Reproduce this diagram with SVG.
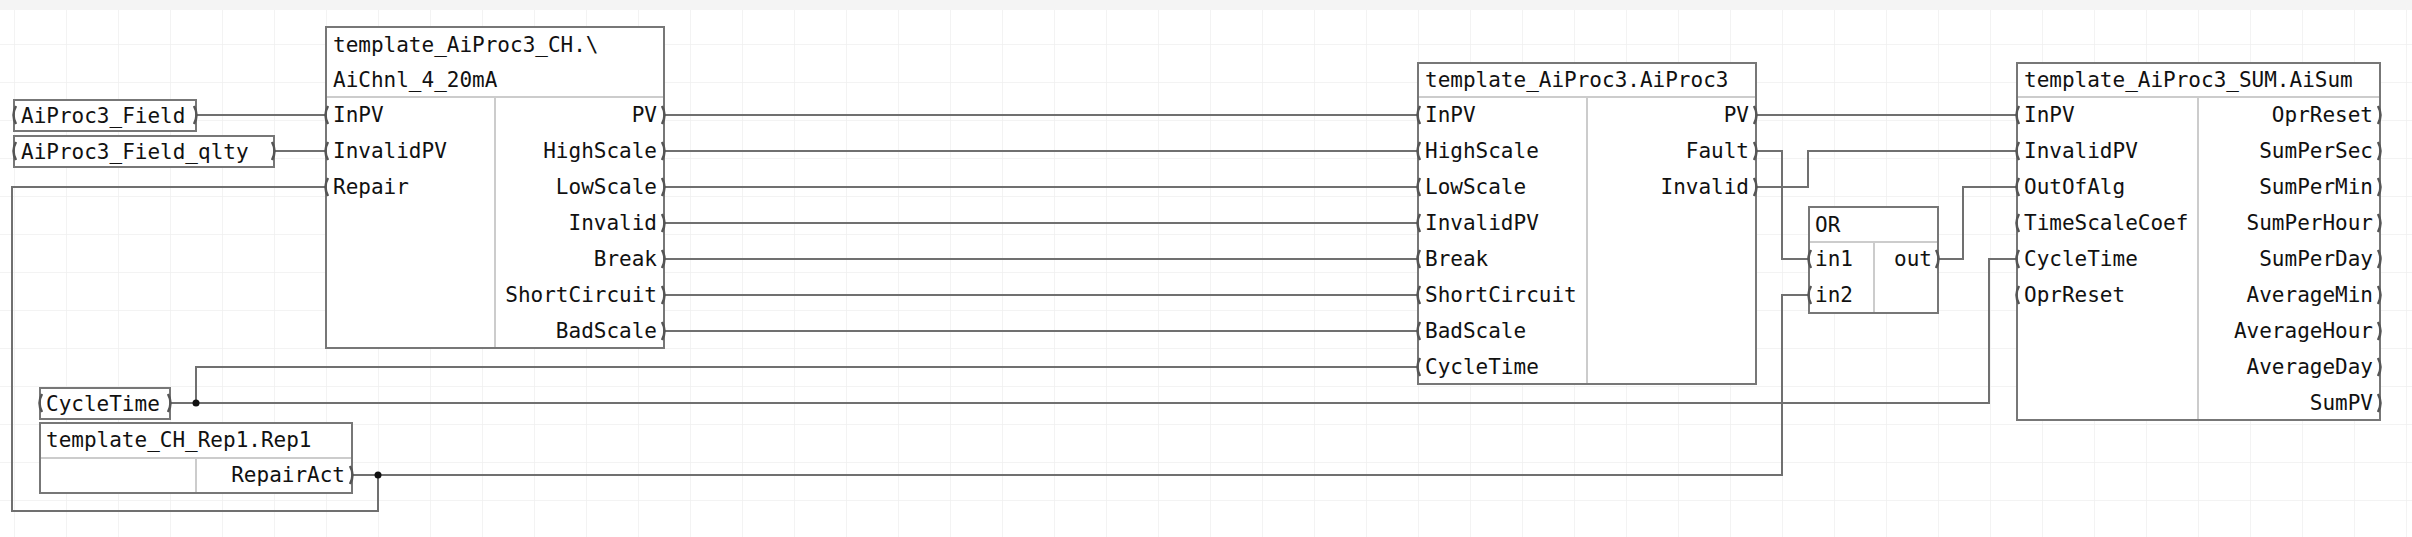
<svg xmlns="http://www.w3.org/2000/svg" width="2412" height="537" viewBox="0 0 2412 537">
<style>
.bx{fill:#fff;stroke:#777;stroke-width:2}
.dv{stroke:#ccc;stroke-width:2;fill:none}
.t{font-family:"DejaVu Sans Mono",monospace;font-size:21px;fill:#111}
.r{text-anchor:end}
.w{fill:none;stroke:#707070;stroke-width:2}
.p{fill:none;stroke:#555;stroke-width:2.5}
</style>
<defs>
<pattern id="g" width="52" height="38" patternUnits="userSpaceOnUse" x="14" y="6"><path d="M0 0V38M0 0H52" stroke="#efefef" stroke-width="1.5" fill="none"/></pattern>
</defs>
<rect width="2412" height="537" fill="#fff"/>
<rect y="10" width="2412" height="527" fill="url(#g)"/>
<rect width="2412" height="10" fill="#f4f4f4"/>
<g id="connectors">
<path class="w" d="M196 115H326M274 151H326M326 187H12V511H378V475"/>
<path class="w" d="M352 475H1782V295H1809"/>
<path class="w" d="M170 403H1989V259H2017M196 403V367H1418"/>
<path class="w" d="M664 115H1418M664 151H1418M664 187H1418M664 223H1418M664 259H1418M664 295H1418M664 331H1418"/>
<path class="w" d="M1756 115H2017M1756 151H1782V259H1809M1756 187H1808V151H2017M1938 259H1963V187H2017"/>
<circle cx="196" cy="403" r="3.5" fill="#111"/>
<circle cx="378" cy="475" r="3.5" fill="#111"/>
</g>
<g id="AiProc3_Field">
<rect class="bx" x="14" y="100" width="182" height="31"/>
<text class="t" x="21" y="123">AiProc3_Field</text>
<path class="p" d="M16 106q-5 9 0 18M194 106q5 9 0 18"/>
</g>
<g id="AiProc3_Field_qlty">
<rect class="bx" x="14" y="136" width="260" height="31"/>
<text class="t" x="21" y="159">AiProc3_Field_qlty</text>
<path class="p" d="M16 142q-5 9 0 18M272 142q5 9 0 18"/>
</g>
<g id="CycleTime">
<rect class="bx" x="40" y="388" width="130" height="31"/>
<text class="t" x="46" y="411">CycleTime</text>
<path class="p" d="M42 394q-5 9 0 18M168 394q5 9 0 18"/>
</g>
<g id="Rep1">
<rect class="bx" x="40" y="423" width="312" height="70"/>
<path class="dv" d="M41 458H351M196 459V492"/>
<text class="t" x="46" y="447">template_CH_Rep1.Rep1</text>
<text class="t r" x="345" y="482">RepairAct</text>
<path class="p" d="M350 466q5 9 0 18"/>
</g>
<g id="AiChnl">
<rect class="bx" x="326" y="27" width="338" height="321"/>
<path class="dv" d="M327 97H663M495 98V347"/>
<text class="t" x="333" y="52">template_AiProc3_CH.\</text>
<text class="t" x="333" y="87">AiChnl_4_20mA</text>
<text class="t" x="333" y="122">InPV</text>
<text class="t" x="333" y="158">InvalidPV</text>
<text class="t" x="333" y="194">Repair</text>
<g class="t r">
<text x="657" y="122">PV</text><text x="657" y="158">HighScale</text><text x="657" y="194">LowScale</text><text x="657" y="230">Invalid</text><text x="657" y="266">Break</text><text x="657" y="302">ShortCircuit</text><text x="657" y="338">BadScale</text>
</g>
<path class="p" d="M328 106q-5 9 0 18M328 142q-5 9 0 18M328 178q-5 9 0 18M662 106q5 9 0 18M662 142q5 9 0 18M662 178q5 9 0 18M662 214q5 9 0 18M662 250q5 9 0 18M662 286q5 9 0 18M662 322q5 9 0 18"/>
</g>
<g id="AiProc3">
<rect class="bx" x="1418" y="63" width="338" height="321"/>
<path class="dv" d="M1419 97H1755M1587 98V383"/>
<text class="t" x="1425" y="87">template_AiProc3.AiProc3</text>
<g class="t">
<text x="1425" y="122">InPV</text><text x="1425" y="158">HighScale</text><text x="1425" y="194">LowScale</text><text x="1425" y="230">InvalidPV</text><text x="1425" y="266">Break</text><text x="1425" y="302">ShortCircuit</text><text x="1425" y="338">BadScale</text><text x="1425" y="374">CycleTime</text>
</g>
<g class="t r"><text x="1749" y="122">PV</text><text x="1749" y="158">Fault</text><text x="1749" y="194">Invalid</text></g>
<path class="p" d="M1420 106q-5 9 0 18M1420 142q-5 9 0 18M1420 178q-5 9 0 18M1420 214q-5 9 0 18M1420 250q-5 9 0 18M1420 286q-5 9 0 18M1420 322q-5 9 0 18M1420 358q-5 9 0 18M1754 106q5 9 0 18M1754 142q5 9 0 18M1754 178q5 9 0 18"/>
</g>
<g id="OR">
<rect class="bx" x="1809" y="207" width="129" height="106"/>
<path class="dv" d="M1810 242H1937M1874 243V312"/>
<text class="t" x="1815" y="232">OR</text>
<text class="t" x="1815" y="266">in1</text>
<text class="t" x="1815" y="302">in2</text>
<text class="t r" x="1932" y="266">out</text>
<path class="p" d="M1811 250q-5 9 0 18M1811 286q-5 9 0 18M1936 250q5 9 0 18"/>
</g>
<g id="AiSum">
<rect class="bx" x="2017" y="63" width="363" height="357"/>
<path class="dv" d="M2018 97H2379M2198 98V419"/>
<text class="t" x="2024" y="87">template_AiProc3_SUM.AiSum</text>
<g class="t">
<text x="2024" y="122">InPV</text><text x="2024" y="158">InvalidPV</text><text x="2024" y="194">OutOfAlg</text><text x="2024" y="230">TimeScaleCoef</text><text x="2024" y="266">CycleTime</text><text x="2024" y="302">OprReset</text>
</g>
<g class="t r">
<text x="2373" y="122">OprReset</text><text x="2373" y="158">SumPerSec</text><text x="2373" y="194">SumPerMin</text><text x="2373" y="230">SumPerHour</text><text x="2373" y="266">SumPerDay</text><text x="2373" y="302">AverageMin</text><text x="2373" y="338">AverageHour</text><text x="2373" y="374">AverageDay</text><text x="2373" y="410">SumPV</text>
</g>
<path class="p" d="M2019 106q-5 9 0 18M2019 142q-5 9 0 18M2019 178q-5 9 0 18M2019 214q-5 9 0 18M2019 250q-5 9 0 18M2019 286q-5 9 0 18M2378 106q5 9 0 18M2378 142q5 9 0 18M2378 178q5 9 0 18M2378 214q5 9 0 18M2378 250q5 9 0 18M2378 286q5 9 0 18M2378 322q5 9 0 18M2378 358q5 9 0 18M2378 394q5 9 0 18"/>
</g>
</svg>
